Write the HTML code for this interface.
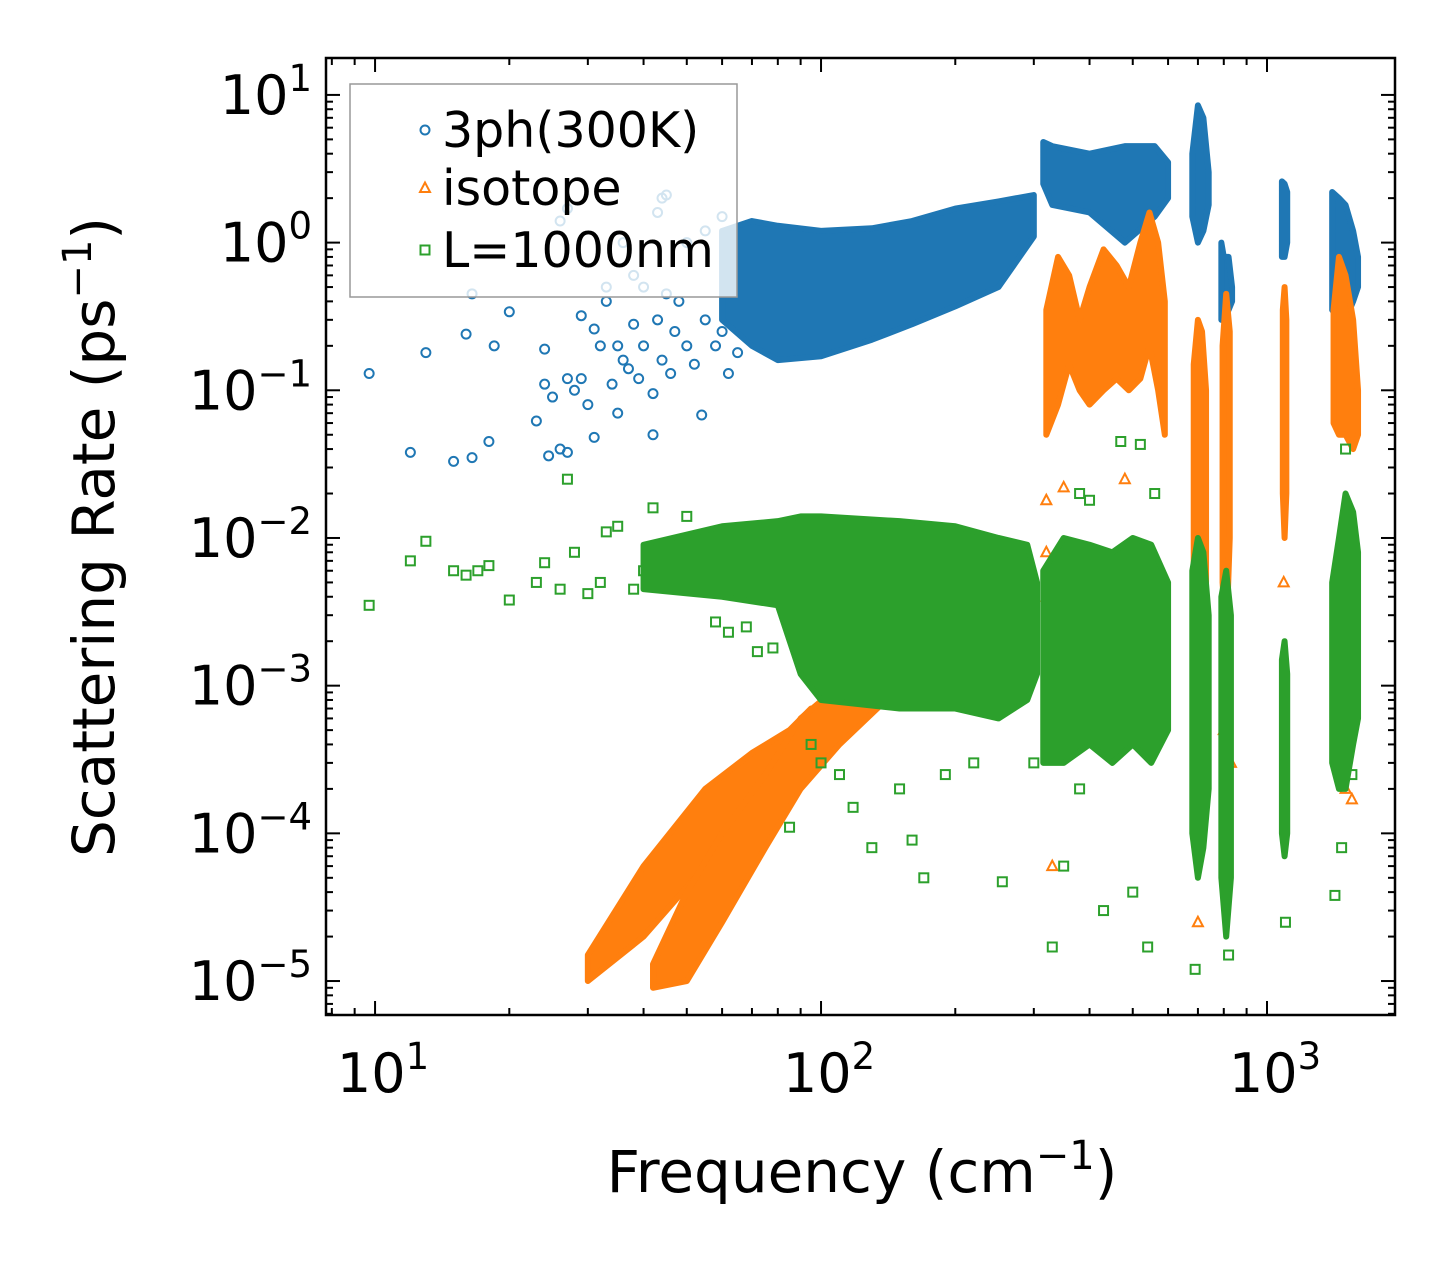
<!DOCTYPE html>
<html><head><meta charset="utf-8"><style>
html,body{margin:0;padding:0;background:#fff;}
svg{display:block;font-family:"DejaVu Sans","Liberation Sans",sans-serif;}
</style></head><body>
<svg id="chart" width="1455" height="1265" viewBox="0 0 1455 1265">
<defs><clipPath id="plotclip"><rect x="326" y="58" width="1069" height="957"/></clipPath></defs>
<rect x="0" y="0" width="1455" height="1265" fill="#fff"/>
<g id="data" clip-path="url(#plotclip)"></g>
<g id="axes"></g>
<g id="legend"></g>
</svg>
<script>
// ---- data ----
const blueX = [9.7,12,13,15,16,16.5,16.5,18,18.5,20,23,24,24,24.5,25,26,27,27,28,29,29,30,31,31,32,33,33,34,35,35,36,37,38,38,39,40,42,42,43,44,45,46,47,48,50,52,54,55,58,60,62,65];
const blueY = [0.13,0.038,0.18,0.033,0.24,0.035,0.45,0.045,0.2,0.34,0.062,0.19,0.11,0.036,0.09,0.04,0.12,0.038,0.1,0.12,0.32,0.08,0.048,0.26,0.2,0.5,0.4,0.11,0.2,0.07,0.16,0.14,0.6,0.28,0.12,0.2,0.095,0.05,0.3,0.16,0.45,0.13,0.25,0.4,0.2,0.15,0.068,0.3,0.2,0.25,0.13,0.18];
const blueLightX = [26,27,36,43,44,45,50,40,55,60];
const blueLightY = [1.4,1.7,1.0,1.6,2.0,2.1,1.0,0.5,1.2,1.5];
const greenX = [9.7,12,13,15,16,17,18,20,23,24,26,27,28,30,32,33,35,38,40,42,45,50,55,58,62,68,72,78,85,95,100,110,118,130,150,160,170,190,220,255,300,330,350,380,430,470,520,540,560,500,1100,1420,1470,1500,1550,380,400,690,820];
const greenY = [0.0035,0.007,0.0095,0.006,0.0056,0.006,0.0065,0.0038,0.005,0.0068,0.0045,0.025,0.008,0.0042,0.005,0.011,0.012,0.0045,0.006,0.016,0.007,0.014,0.005,0.0027,0.0023,0.0025,0.0017,0.0018,0.00011,0.0004,0.0003,0.00025,0.00015,0.00008,0.0002,0.00009,0.00005,0.00025,0.0003,0.000047,0.0003,0.000017,0.00006,0.0002,0.00003,0.045,0.043,0.000017,0.02,0.00004,0.000025,0.000038,0.00008,0.04,0.00025,0.02,0.018,0.000012,0.000015];
const orangeX = [320,320,320,350,330,480,700,800,1500,1550,1090,830];
const orangeY = [0.018,0.008,0.004,0.022,0.00006,0.025,0.000025,0.0005,0.0002,0.00017,0.005,0.0003];
// dense clusters: frequency list, lower and upper rate envelope
const blueBandX = [[60,70,80,100,130,160,200,250,300],[315,330,400,480,560,600],[680,700,720,740],[790,800,820,835],[1080,1095,1110],[1400,1450,1500,1560,1600]];
const blueBandHi = [[1.2,1.4,1.3,1.2,1.25,1.4,1.7,1.9,2.1],[4.8,4.5,4.0,4.5,4.5,3.5],[4,8.5,7,3],[1.0,0.8,0.8,0.5],[2.6,2.5,2.2],[2.2,2.0,1.8,1.2,0.8]];
const blueBandLo = [[0.3,0.2,0.16,0.17,0.22,0.28,0.37,0.5,1.1],[2.5,1.8,1.6,1.0,1.5,2.0],[1.5,1.0,1.2,1.8],[0.3,0.3,0.35,0.4],[0.8,0.8,1.0],[0.35,0.3,0.3,0.4,0.5]];
const orangeBandX = [[30,40,55,70,85,95],[42,50,60,75,90,110,140],[320,340,360,380,400,430,460,490,520,545,570,590],[685,700,715,730],[795,810,825],[1085,1095,1105],[1410,1450,1500,1560,1600]];
const orangeBandHi = [[1.5e-5,6e-5,2e-4,3.5e-4,5e-4,7e-4],[1.3e-5,4e-5,1e-4,2.5e-4,6e-4,1e-3,1.3e-3],[0.35,0.8,0.6,0.3,0.5,0.9,0.7,0.5,1.0,1.6,1.0,0.4],[0.15,0.3,0.25,0.1],[0.2,0.45,0.25],[0.35,0.5,0.3],[0.35,0.8,0.6,0.3,0.1]];
const orangeBandLo = [[1e-5,2e-5,6e-5,1.3e-4,2.5e-4,4e-4],[9e-6,1e-5,2.5e-5,8e-5,2e-4,4e-4,8e-4],[0.05,0.08,0.15,0.1,0.08,0.1,0.12,0.1,0.12,0.2,0.1,0.05],[0.004,0.002,0.003,0.005],[0.005,0.002,0.01],[0.02,0.01,0.02],[0.06,0.05,0.05,0.04,0.05]];
const greenBandX = [[40,60,80,90,100,150,200,250,290,305],[315,350,400,450,500,550,600],[680,700,720,740],[790,810,830],[1080,1095,1110],[1400,1450,1500,1560,1600]];
const greenBandHi = [[0.009,0.012,0.013,0.014,0.014,0.013,0.012,0.01,0.009,0.005],[0.006,0.01,0.009,0.008,0.01,0.009,0.005],[0.006,0.01,0.008,0.003],[0.004,0.006,0.003],[0.0015,0.002,0.0012],[0.005,0.01,0.02,0.015,0.008]];
const greenBandLo = [[0.0045,0.004,0.0035,0.0012,0.0008,0.0007,0.0007,0.0006,0.0008,0.0012],[0.0003,0.0003,0.0004,0.0003,0.0004,0.0003,0.0005],[0.0001,0.00005,0.00008,0.0002],[0.00005,0.00002,0.00005],[0.0001,0.00007,0.0001],[0.0003,0.0002,0.0002,0.0004,0.0006]];
const xTickExp = [1,2,3];
const yTickExp = [1,0,-1,-2,-3,-4,-5];

// ---- axes ----
const L=326,R=1395,T=58,B=1015;
const xlo=0.89,xhi=3.287,ylo=-5.23,yhi=1.25;
const xs=v=>L+(Math.log10(v)-xlo)/(xhi-xlo)*(R-L);
const ys=v=>B-(Math.log10(v)-ylo)/(yhi-ylo)*(B-T);
const NS='http://www.w3.org/2000/svg';
function mk(tag,attrs,parent){const e=document.createElementNS(NS,tag);for(const k in attrs)e.setAttribute(k,attrs[k]);parent.appendChild(e);return e;}
const gd=document.getElementById('data'),ga=document.getElementById('axes'),gl=document.getElementById('legend');
const C={b:'#1f77b4',o:'#ff7f0e',g:'#2ca02c'};

function band(xsArr,lo,hi,color,name,parent){
  xsArr.forEach((xa,i)=>{
    let pts=[];
    xa.forEach((x,j)=>pts.push(xs(x)+','+ys(hi[i][j])));
    for(let j=xa.length-1;j>=0;j--)pts.push(xs(xa[j])+','+ys(lo[i][j]));
    const p=mk('polygon',{points:pts.join(' '),fill:color,stroke:color,'stroke-width':6,'stroke-linejoin':'round'},parent);
    
    
  });
}
function marker(kind,cx,cy,color,parent,op){
  let e;
  if(kind==='c')e=mk('circle',{cx:cx,cy:cy,r:4.5,fill:'none',stroke:color,'stroke-width':2},parent);
  else if(kind==='t')e=mk('polygon',{points:`${cx},${cy-5.5} ${cx-5},${cy+4} ${cx+5},${cy+4}`,fill:'none',stroke:color,'stroke-width':2},parent);
  else e=mk('rect',{x:cx-4.5,y:cy-4.5,width:9,height:9,fill:'none',stroke:color,'stroke-width':2},parent);
  if(op)e.setAttribute('opacity',op);
  return e;
}
const gb=mk('g',{},gd);
const go=mk('g',{},gd);
const gg=mk('g',{},gd);
band(blueBandX,blueBandLo,blueBandHi,C.b,'3ph',gb);
blueX.forEach((x,i)=>{const m=marker('c',xs(x),ys(blueY[i]),C.b,gb);});
blueLightX.forEach((x,i)=>{const m=marker('c',xs(x),ys(blueLightY[i]),C.b,gb);});
band(orangeBandX,orangeBandLo,orangeBandHi,C.o,'isotope',go);
orangeX.forEach((x,i)=>{const m=marker('t',xs(x),ys(orangeY[i]),C.o,go);});
band(greenBandX,greenBandLo,greenBandHi,C.g,'boundary',gg);
greenX.forEach((x,i)=>{const m=marker('s',xs(x),ys(greenY[i]),C.g,gg);});

// frame
const fr=mk('rect',{x:L,y:T,width:R-L,height:B-T,fill:'none',stroke:'#000','stroke-width':2.5},ga);

// ticks
for(let e=0;e<=3;e++)for(let m=1;m<10;m++){
  const v=m*Math.pow(10,e),x=xs(v);if(x<L||x>R)continue;const len=m===1?14:7;
  mk('line',{x1:x,y1:B,x2:x,y2:B-len,stroke:'#000','stroke-width':2},ga);
  mk('line',{x1:x,y1:T,x2:x,y2:T+len,stroke:'#000','stroke-width':2},ga);
}
for(let e=-6;e<=1;e++)for(let m=1;m<10;m++){
  const v=m*Math.pow(10,e),y=ys(v);if(y<T||y>B)continue;const len=m===1?14:7;
  mk('line',{x1:L,y1:y,x2:L+len,y2:y,stroke:'#000','stroke-width':2},ga);
  mk('line',{x1:R,y1:y,x2:R-len,y2:y,stroke:'#000','stroke-width':2},ga);
}
function powLabel(x,y,exp,anchor,name){
  const t=mk('text',{x:x,y:y,'text-anchor':anchor,'font-size':54,fill:'#000'},ga);
  
  const a=mk('tspan',{},t);a.textContent='10';
  const b=mk('tspan',{dy:-23,'font-size':37},t);b.textContent=exp<0?'\u2212'+(-exp):String(exp);
}
xTickExp.forEach(e=>powLabel(xs(Math.pow(10,e))+8,1092,e,'middle','x-tick-label'));
yTickExp.forEach(e=>powLabel(312,ys(Math.pow(10,e))+19,e,'end','y-tick-label'));
// axis titles
const xt=mk('text',{x:862,y:1192,'text-anchor':'middle','font-size':58,fill:'#000'},ga);

xt.innerHTML='Frequency (cm<tspan dy="-23" font-size="40">\u22121</tspan><tspan dy="23">)</tspan>';
const yt=mk('text',{x:0,y:0,'text-anchor':'middle','font-size':58,fill:'#000',transform:'translate(114,537) rotate(-90)'},ga);

yt.innerHTML='Scattering Rate (ps<tspan dy="-23" font-size="40">\u22121</tspan><tspan dy="23">)</tspan>';
// legend
const lb=mk('rect',{x:350,y:84,width:387,height:213,fill:'#fff','fill-opacity':0.8,stroke:'#999','stroke-width':1.5},gl);

const entries=[['c',C.b,'3ph(300K)',130],['t',C.o,'isotope',188],['s',C.g,'L=1000nm',250]];
entries.forEach(en=>{
  const g=mk('g',{},gl);
  marker(en[0],425,en[3],en[1],g);
  const t=mk('text',{x:442,y:en[3]+17,'font-size':49,fill:'#000'},g);t.textContent=en[2];
});
</script>
</body></html>
